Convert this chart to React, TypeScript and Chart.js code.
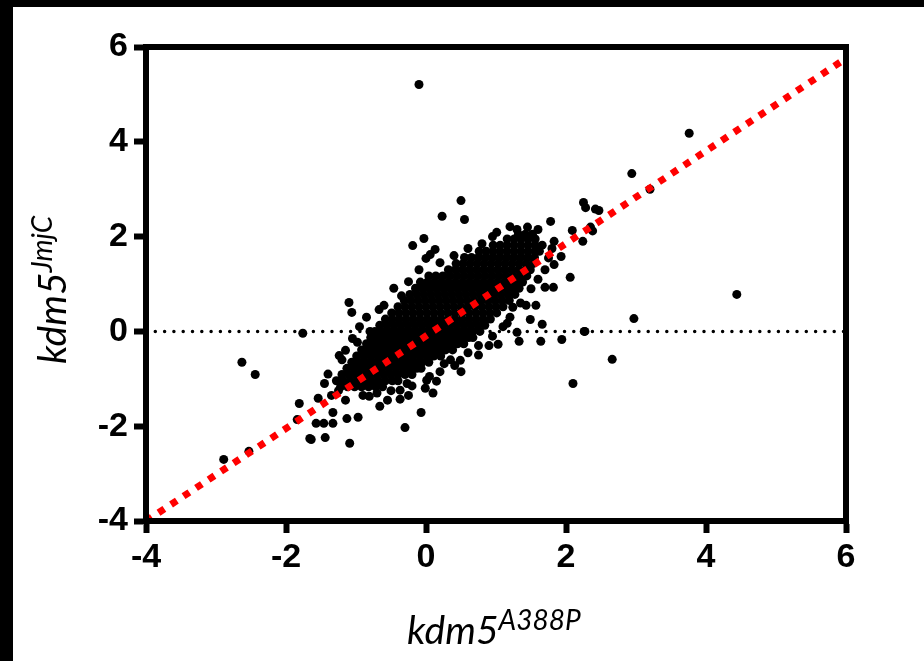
import React, { useEffect, useRef } from "react";
import { Chart, registerables } from "chart.js";

Chart.register(...registerables);

// ---- data ----
const axisMin = -4;
const axisMax = 6;
const tickStep = 2;

// regression (red dotted) line end points
const fitLineX = [-4, 6];
const fitLineY = [-4, 5.76];

// horizontal reference line at y = 0
const zeroLineX = [-4, 6];
const zeroLineY = [0, 0];

// scattered points outside / on the edge of the dense cloud  [x, y]
const outlierPoints: [number, number][] = [
  [-0.1, 5.21], [3.76, 4.18], [2.94, 3.33], [3.2, 3.0], [4.44, 0.78], [2.97, 0.27],
  [2.66, -0.59], [2.1, -1.1], [2.27, 0.0], [1.94, -0.17], [2.06, 1.14], [1.82, 0.93],
  [1.7, 0.93], [1.83, 1.41], [1.93, 1.58], [1.83, 1.9], [2.24, 1.9], [2.09, 2.13],
  [2.25, 2.72], [2.28, 2.61], [2.42, 2.58], [2.47, 2.55], [2.35, 2.2], [2.38, 2.12],
  [1.78, 2.32], [0.5, 2.76], [0.23, 2.43], [0.55, 2.36], [1.2, 2.21], [1.01, 2.09],
  [-0.03, 1.96], [-0.19, 1.81], [0.13, 1.73], [0.06, 1.62], [0.0, 1.54], [-0.46, 0.91],
  [-1.1, 0.61], [-1.06, 0.4], [-0.67, 0.46], [-1.76, -0.04], [-0.8, 0.0], [2.26, 0.0],
  [1.64, -0.21], [1.33, -0.21], [1.03, -0.27], [1.49, 0.25], [1.66, 0.15], [1.43, 0.55],
  [1.57, 0.55], [1.24, 0.51], [-1.24, -0.51], [-0.98, -0.23], [0.26, -0.68], [0.49, -0.61],
  [0.41, -0.72], [-0.07, -1.71], [-0.3, -2.03], [-1.09, -2.36], [-1.64, -2.28], [-1.44, -2.24],
  [-1.33, -1.94], [-1.57, -1.94], [-0.97, -1.81], [-1.13, -1.84], [-0.66, -1.58], [-0.81, -1.37],
  [-0.37, -1.43], [-0.01, -1.2], [-1.33, -1.71], [-2.63, -0.65], [-2.44, -0.91], [-2.89, -2.7],
  [-2.53, -2.53], [-1.81, -1.52], [-1.84, -1.86], [-1.66, -2.26], [-1.54, -1.41], [-1.46, -1.94],
];

// points along the ragged border of the dense cloud  [x, y]
const edgePoints: [number, number][] = [
  [-0.35, 0.75], [-0.6, 0.55], [-0.85, 0.3], [-0.95, 0.1], [-1.05, -0.15], [-1.15, -0.4],
  [-1.2, -0.6], [-1.4, -0.9], [-1.45, -1.1], [-1.25, -1.25], [-1.35, -1.35], [-1.15, -1.45],
  [-0.9, -1.35], [-0.7, -1.3], [-0.5, -1.25], [-0.2, -1.15], [0.05, -0.95], [0.2, -0.85],
  [0.35, -0.6], [0.6, -0.45], [0.75, -0.3], [0.95, -0.1], [1.1, 0.1], [1.2, 0.3],
  [1.35, 0.6], [1.5, 0.9], [1.6, 1.1], [1.7, 1.3], [1.75, 1.55], [1.8, 1.75],
  [1.6, 2.15], [1.45, 2.2], [1.3, 2.15], [0.95, 2.0], [0.8, 1.85], [0.6, 1.75],
  [0.4, 1.6], [0.2, 1.45], [-0.1, 1.3], [-0.25, 1.05], [1.3, -0.02], [1.16, 0.17],
  [0.9, -0.3], [0.75, -0.5], [0.5, -0.85], [0.15, -1.05], [0.1, -1.3], [-0.25, -1.35],
  [-0.55, -1.45], [-0.37, -1.24], [-0.27, -1.1], [0.01, -1.03],
];

// dense core of the cloud: rows of [y, x values]
const cloudRows: [number, number[]][] = [
  [-1.17, [-1.22, -1.12, -1.02, -0.92, -0.82, -0.72, -0.62]],
  [-1.04, [-1.28, -1.18, -1.08, -0.98, -0.88, -0.78, -0.68, -0.58, -0.48, -0.4]],
  [-0.91, [-1.2, -1.1, -1.0, -0.9, -0.8, -0.7, -0.6, -0.5, -0.4, -0.3, -0.2]],
  [-0.78, [-1.13, -1.03, -0.93, -0.83, -0.73, -0.63, -0.53, -0.43, -0.33, -0.23, -0.13, -0.07]],
  [-0.65, [-1.06, -0.96, -0.86, -0.76, -0.66, -0.56, -0.46, -0.36, -0.26, -0.16, -0.06, 0.04]],
  [-0.52, [-0.99, -0.89, -0.79, -0.69, -0.59, -0.49, -0.39, -0.29, -0.19, -0.09, 0.01, 0.11, 0.21]],
  [-0.39, [-0.92, -0.82, -0.72, -0.62, -0.52, -0.42, -0.32, -0.22, -0.12, -0.02, 0.08, 0.18, 0.28, 0.38]],
  [-0.26, [-0.85, -0.75, -0.65, -0.55, -0.45, -0.35, -0.25, -0.15, -0.05, 0.05, 0.15, 0.25, 0.35, 0.45, 0.54]],
  [-0.13, [-0.79, -0.69, -0.59, -0.49, -0.39, -0.29, -0.19, -0.09, 0.01, 0.11, 0.21, 0.31, 0.41, 0.51, 0.61, 0.67]],
  [0.0, [-0.73, -0.63, -0.53, -0.43, -0.33, -0.23, -0.13, -0.03, 0.07, 0.17, 0.27, 0.37, 0.47, 0.57, 0.67, 0.77]],
  [0.13, [-0.66, -0.56, -0.46, -0.36, -0.26, -0.16, -0.06, 0.04, 0.14, 0.24, 0.34, 0.44, 0.54, 0.64, 0.74, 0.84]],
  [0.26, [-0.58, -0.48, -0.38, -0.28, -0.18, -0.08, 0.02, 0.12, 0.22, 0.32, 0.42, 0.52, 0.62, 0.72, 0.82, 0.92]],
  [0.39, [-0.49, -0.39, -0.29, -0.19, -0.09, 0.01, 0.11, 0.21, 0.31, 0.41, 0.51, 0.61, 0.71, 0.81, 0.91, 1.01]],
  [0.52, [-0.4, -0.3, -0.2, -0.1, 0.0, 0.1, 0.2, 0.3, 0.4, 0.5, 0.6, 0.7, 0.8, 0.9, 1.0, 1.1]],
  [0.65, [-0.31, -0.21, -0.11, -0.01, 0.09, 0.19, 0.29, 0.39, 0.49, 0.59, 0.69, 0.79, 0.89, 0.99, 1.09, 1.19]],
  [0.78, [-0.23, -0.13, -0.03, 0.07, 0.17, 0.27, 0.37, 0.47, 0.57, 0.67, 0.77, 0.87, 0.97, 1.07, 1.17, 1.27]],
  [0.91, [-0.15, -0.05, 0.05, 0.15, 0.25, 0.35, 0.45, 0.55, 0.65, 0.75, 0.85, 0.95, 1.05, 1.15, 1.25, 1.33]],
  [1.04, [-0.08, 0.02, 0.12, 0.22, 0.32, 0.42, 0.52, 0.62, 0.72, 0.82, 0.92, 1.02, 1.12, 1.22, 1.32, 1.38]],
  [1.17, [0.04, 0.14, 0.24, 0.34, 0.44, 0.54, 0.64, 0.74, 0.84, 0.94, 1.04, 1.14, 1.24, 1.34, 1.44]],
  [1.3, [0.32, 0.42, 0.52, 0.62, 0.72, 0.82, 0.92, 1.02, 1.12, 1.22, 1.32, 1.42, 1.49]],
  [1.43, [0.43, 0.53, 0.63, 0.73, 0.83, 0.93, 1.03, 1.13, 1.23, 1.33, 1.43, 1.53]],
  [1.56, [0.55, 0.65, 0.75, 0.85, 0.95, 1.05, 1.15, 1.25, 1.35, 1.45, 1.55]],
  [1.69, [0.76, 0.86, 0.96, 1.06, 1.16, 1.26, 1.36, 1.46, 1.56, 1.62]],
  [1.82, [0.96, 1.06, 1.16, 1.26, 1.36, 1.46, 1.56, 1.66]],
  [1.95, [1.16, 1.26, 1.36, 1.46, 1.56]],
  [2.05, [1.32, 1.42, 1.52]],
];

const xTitleMain = "kdm5";
const xTitleSup = "A388P";
const yTitleMain = "kdm5";
const yTitleSup = "JmjC";

// ---- layout constants ----
const CANVAS_LEFT = 13;
const CANVAS_TOP = 7;
const CANVAS_W = 911;
const CANVAS_H = 654;

const framePlugin = {
  id: "frame",
  afterDatasetsDraw(chart: any) {
    const { ctx, chartArea: a } = chart;
    ctx.save();
    ctx.strokeStyle = "#000";
    ctx.lineWidth = 6;
    ctx.strokeRect(a.left, a.top, a.right - a.left, a.bottom - a.top);
    ctx.restore();
  },
};

export default function App() {
  const ref = useRef<HTMLCanvasElement | null>(null);

  useEffect(() => {
    if (!ref.current) return;
    const scatterData = [
      ...cloudRows.flatMap(([y, xs]) => xs.map((x) => ({ x, y }))),
      ...edgePoints.map(([x, y]) => ({ x, y })),
      ...outlierPoints.map(([x, y]) => ({ x, y })),
    ];
    const tickFont = { family: "'Liberation Sans', Arial, sans-serif", size: 34, weight: "bold" as const };
    const chart = new Chart(ref.current, {
      type: "scatter",
      data: {
        datasets: [
          {
            type: "line",
            data: fitLineX.map((x, i) => ({ x, y: fitLineY[i] })),
            borderColor: "#ff0000",
            borderWidth: 7,
            borderDash: [7, 8],
            pointRadius: 0,
            order: 0,
            clip: 0,
          } as any,
          {
            type: "scatter",
            data: scatterData,
            backgroundColor: "#000",
            borderWidth: 0,
            pointRadius: 4.5,
            order: 1,
          },
          {
            type: "line",
            data: zeroLineX.map((x, i) => ({ x, y: zeroLineY[i] })),
            borderColor: "#000",
            borderWidth: 3.5,
            borderDash: [0, 9.3],
            borderCapStyle: "round",
            pointRadius: 0,
            order: 2,
          } as any,
        ],
      },
      options: {
        animation: false,
        responsive: false,
        maintainAspectRatio: false,
        layout: { padding: { top: 40, right: 78, left: 0, bottom: 0 } },
        plugins: { legend: { display: false }, tooltip: { enabled: false } },
        scales: {
          x: {
            type: "linear",
            min: axisMin,
            max: axisMax,
            ticks: { stepSize: tickStep, color: "#000", font: tickFont, padding: 4 },
            grid: { drawOnChartArea: false, drawTicks: true, tickLength: 12, tickWidth: 6, tickColor: "#000" },
            border: { display: true, width: 6, color: "#000" },
            afterFit: (s: any) => { s.height = 140; },
          },
          y: {
            type: "linear",
            min: axisMin,
            max: axisMax,
            ticks: { stepSize: tickStep, color: "#000", font: tickFont, padding: 6 },
            grid: { drawOnChartArea: false, drawTicks: true, tickLength: 12, tickWidth: 6, tickColor: "#000" },
            border: { display: true, width: 6, color: "#000" },
            afterFit: (s: any) => { s.width = 133; },
          },
        },
      },
      plugins: [framePlugin],
    });
    return () => chart.destroy();
  }, []);

  const titleFont = "Lato, 'Open Sans', sans-serif";

  return (
    <div style={{ position: "fixed", left: 0, top: 0, width: 924, height: 661, background: "#000", overflow: "hidden" }}>
      <div style={{ position: "absolute", left: CANVAS_LEFT, top: CANVAS_TOP, width: CANVAS_W, height: CANVAS_H, background: "#fff" }}>
        <canvas ref={ref} width={CANVAS_W} height={CANVAS_H} style={{ display: "block" }} />
      </div>
      <div
        style={{
          position: "absolute", left: 407, top: 610, whiteSpace: "nowrap",
          fontFamily: titleFont, fontStyle: "italic", fontSize: 39, lineHeight: "39px", color: "#000",
        }}
      >
        {xTitleMain}
        <span style={{ fontSize: 28, position: "relative", top: -14 }}>{xTitleSup}</span>
      </div>
      <div
        style={{
          position: "absolute", left: 32, top: 364, whiteSpace: "nowrap",
          transform: "rotate(-90deg)", transformOrigin: "left top",
          fontFamily: titleFont, fontStyle: "italic", fontSize: 39, lineHeight: "39px", color: "#000",
        }}
      >
        {yTitleMain}
        <span style={{ fontSize: 28, position: "relative", top: -14 }}>{yTitleSup}</span>
      </div>
    </div>
  );
}
